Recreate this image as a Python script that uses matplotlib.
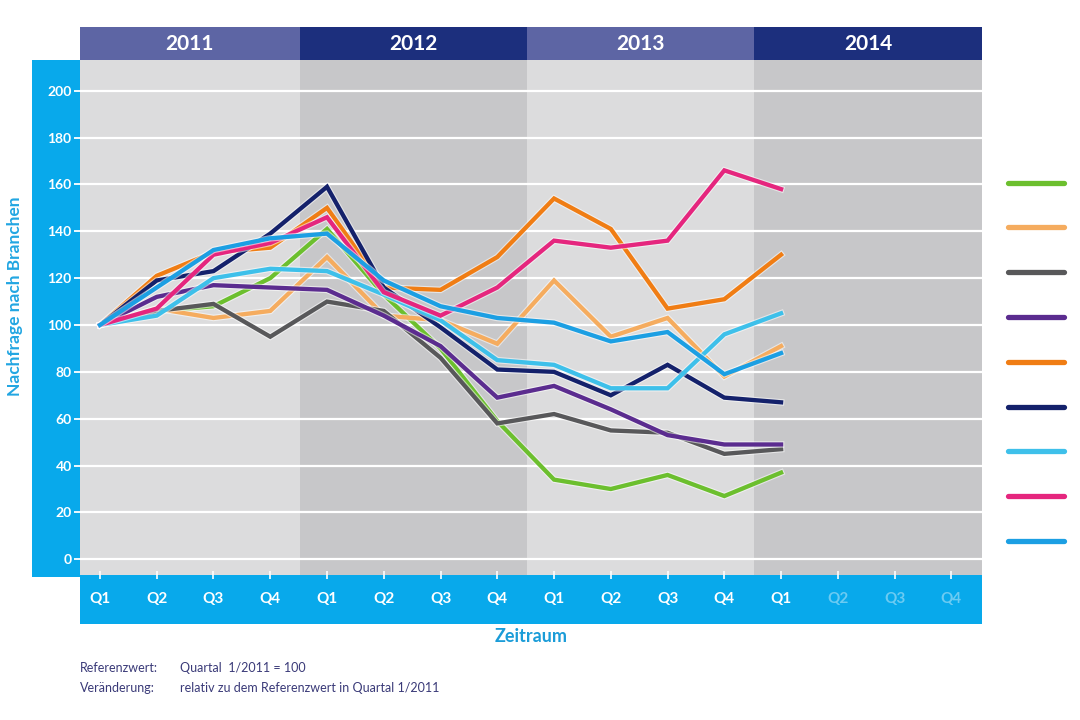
import numpy as np
import matplotlib
matplotlib.use("Agg")
from matplotlib import pyplot as plt
from matplotlib.patches import Rectangle
from matplotlib.lines import Line2D
import matplotlib.patheffects as pe

plt.rcParams['font.family'] = ['Lato', 'DejaVu Sans']

years = ['2011', '2012', '2013', '2014']
quarters = ['Q1', 'Q2', 'Q3', 'Q4'] * 4
yticks = [0, 20, 40, 60, 80, 100, 120, 140, 160, 180, 200]

# index values per quarter, Q1/2011 .. Q1/2014
green = [100, 106, 108, 120, 141, 113, 90, 59, 34, 30, 36, 27, 37]
light_orange = [100, 107, 103, 106, 129, 104, 102, 92, 119, 95, 103, 78, 91]
gray = [100, 106, 109, 95, 110, 106, 86, 58, 62, 55, 54, 45, 47]
purple = [100, 112, 117, 116, 115, 104, 91, 69, 74, 64, 53, 49, 49]
orange = [100, 121, 131, 133, 150, 116, 115, 129, 154, 141, 107, 111, 130]
navy = [100, 119, 123, 139, 159, 116, 99, 81, 80, 70, 83, 69, 67]
sky = [100, 104, 120, 124, 123, 113, 102, 85, 83, 73, 73, 96, 105]
pink = [100, 107, 130, 135, 146, 114, 104, 116, 136, 133, 136, 166, 158]
blue = [100, 116, 132, 137, 139, 119, 108, 103, 101, 93, 97, 79, 88]

series = [green, light_orange, gray, purple, orange, navy, sky, pink, blue]
colors = ['#6cbf2e', '#f5ac5f', '#58585a', '#5b2c8f', '#f07d14',
          '#14216b', '#3ec0ea', '#e5267e', '#1c9fe3']

strip_blue = '#08a9eb'
band_cols = ['#dcdcdd', '#c7c7c9']
head_cols = ['#5d65a4', '#1c2f7d']

W, H = 1080, 720
fig = plt.figure(figsize=(W / 100, H / 100), dpi=100)

def fx(px):
    return px / W

def fy(py):
    return 1 - py / H

# blue strips for the axes
fig.add_artist(Rectangle((fx(32), fy(577)), fx(48), 517 / H, transform=fig.transFigure,
                         facecolor=strip_blue, edgecolor='none', zorder=-1))
fig.add_artist(Rectangle((fx(80), fy(624)), fx(902), 49 / H, transform=fig.transFigure,
                         facecolor=strip_blue, edgecolor='none', zorder=-1))

ax = fig.add_axes([fx(80), fy(575), fx(902), 515 / H])
ax.set_zorder(1)
x0, x1 = -0.352, 15.54
edges = [x0, 3.52, 7.53, 11.52, x1]
for i in range(4):
    ax.axvspan(edges[i], edges[i + 1], color=band_cols[i % 2], zorder=0, lw=0)

x = np.arange(len(green))
for s, c in zip(series, colors):
    ax.plot(x, s, color=c, lw=3.1, solid_joinstyle='miter', zorder=3,
            path_effects=[pe.Stroke(linewidth=4.7, foreground='white', alpha=0.55), pe.Normal()])

ax.set_xlim(x0, x1)
ax.set_ylim(-6.7, 213.1)
ax.set_axisbelow(True)
ax.grid(axis='y', color='white', lw=1.6)
for sp in ax.spines.values():
    sp.set_visible(False)

ax.set_yticks(yticks)
ax.tick_params(axis='y', colors='white', length=4, width=1.3, pad=2, labelsize=10)
ax.set_xticks(np.arange(16))
ax.set_xticklabels(quarters)
ax.tick_params(axis='x', colors='white', direction='inout', length=6, width=1.2, pad=9, labelsize=11)
for lbl in ax.get_yticklabels() + ax.get_xticklabels():
    lbl.set_fontweight('bold')
faint = '#6ccbf2'
for i in range(13, 16):
    ax.get_xticklabels()[i].set_color(faint)
    ax.xaxis.get_major_ticks()[i].tick1line.set_color(faint)

# year header
hax = fig.add_axes([fx(80), fy(60), fx(902), 33 / H])
hax.set_xlim(x0, x1)
hax.set_ylim(0, 1)
hax.axis('off')
for i, yr in enumerate(years):
    hax.axvspan(edges[i], edges[i + 1], color=head_cols[i % 2], lw=0)
    hax.text((edges[i] + edges[i + 1]) / 2, 0.47, yr, ha='center', va='center',
             color='white', fontsize=15, fontweight='bold')

fig.text(fx(15), fy(296), 'Nachfrage nach Branchen', rotation=90, ha='center', va='center',
         color='#22a6e2', fontsize=12.5, fontweight='bold')
fig.text(fx(531), fy(637), 'Zeitraum', ha='center', va='center',
         color='#1a9cd8', fontsize=13, fontweight='bold')

note_col = '#3a3a78'
fig.text(fx(80), fy(668), 'Referenzwert:', ha='left', va='center', color=note_col, fontsize=9)
fig.text(fx(180), fy(668), 'Quartal  1/2011 = 100', ha='left', va='center', color=note_col, fontsize=9)
fig.text(fx(80), fy(688), 'Veränderung:', ha='left', va='center', color=note_col, fontsize=9)
fig.text(fx(180), fy(688), 'relativ zu dem Referenzwert in Quartal 1/2011', ha='left', va='center',
         color=note_col, fontsize=9)

handles = [Line2D([], [], color=c, lw=3.8, solid_capstyle='round') for c in colors]
fs = 10
fig.legend(handles, [' '] * len(handles), loc='upper left',
           bbox_to_anchor=(fx(1008), fy(189 - fs * 1.389)), frameon=False,
           fontsize=fs, handlelength=4.0, handleheight=2.0, labelspacing=1.68,
           borderpad=0, borderaxespad=0, handletextpad=0.2)

fig.savefig('out.png', dpi=100)
